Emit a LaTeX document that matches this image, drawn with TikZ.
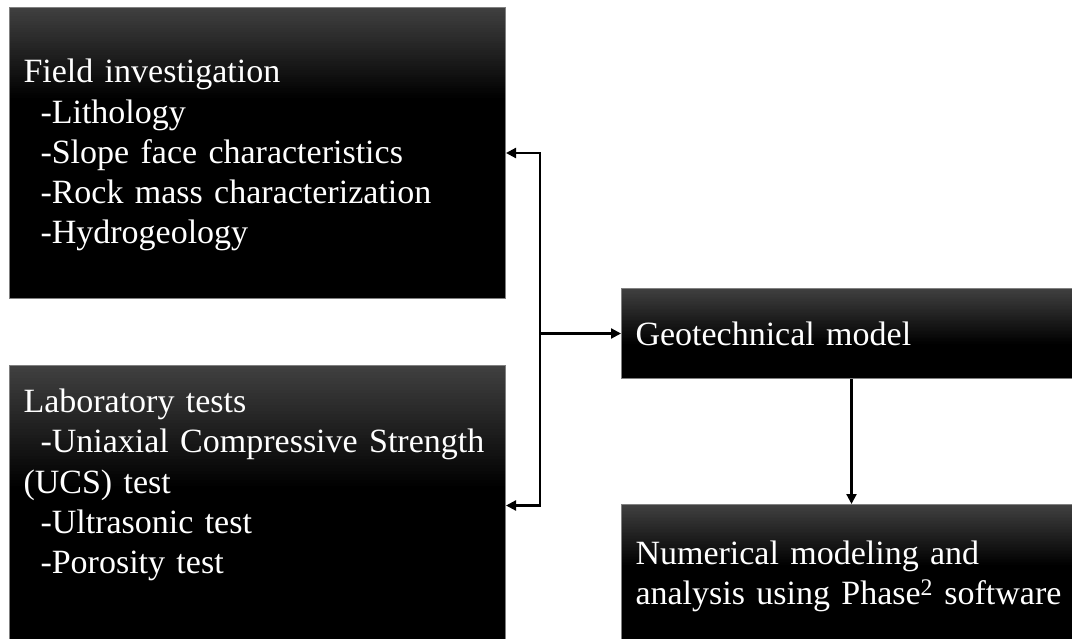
\documentclass[tikz,border=0pt]{standalone}
\usepackage{fontspec}
\setmainfont{Liberation Serif}
\usetikzlibrary{arrows.meta}
\tikzset{
 darkbox/.style={draw=black!50, line width=1pt, fill=black, text=white, anchor=north west,
  inner xsep=14pt, inner ysep=0pt, align=left, font=\fontsize{34pt}{40.3pt}\selectfont,
  path picture={
   \foreach \i [evaluate=\i as \c using 75+25*\i/40] in {0,...,39}
    \fill[black!\c] ([yshift={-\i*#1/40}]path picture bounding box.north west) rectangle ([yshift={-(\i+1.2)*#1/40}]path picture bounding box.north east);
  }},
 link/.style={black, line width=2.2pt, -{Triangle[length=10pt,width=10pt]}}
}
\newcommand{\ind}{\hspace*{0.5em}}

\begin{document}
\begin{tikzpicture}[x=1pt,y=-1pt]
\useasboundingbox (0,0) rectangle (1072,639);
\node[darkbox=90pt, text width=468pt, text height=75.3pt, text depth=215.7pt] (field) at (9,7)
 {Field investigation\\ \ind-Lithology\\ \ind-Slope face characteristics\\ \ind-Rock mass characterization\\ \ind-Hydrogeology};
\node[darkbox=120pt, text width=468pt, text height=47pt, text depth=233pt] (lab) at (9,365)
 {Laboratory tests\\ \ind-Uniaxial Compressive Strength\\ (UCS) test\\ \ind-Ultrasonic test\\ \ind-Porosity test};
\node[darkbox=55pt, text width=432pt, text height=57pt, text depth=33pt] (geo) at (621,288) {Geotechnical model};
\node[darkbox=60pt, text width=432pt, text height=60pt, text depth=96pt] (num) at (621,504)
 {Numerical modeling and\\ analysis using Phase\textsuperscript{2} software};
\coordinate (hub) at ([xshift=-81pt]geo.west);
\draw[link] (hub) |- (field.east);
\draw[link] (hub) |- (lab.east);
\draw[link] (hub) -- (geo.west);
\draw[link] (geo) -- (num);
\end{tikzpicture}
\end{document}
